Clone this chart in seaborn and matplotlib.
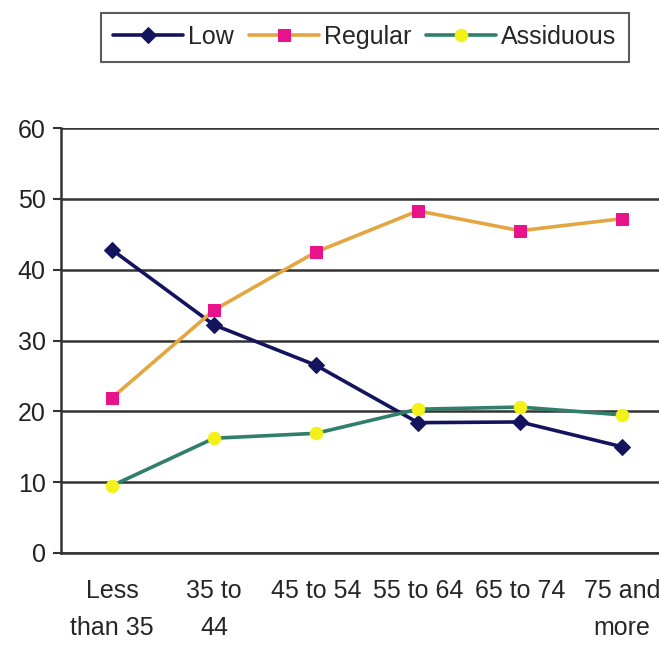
import numpy as np
import pandas as pd
import matplotlib
matplotlib.use("Agg")
import matplotlib.pyplot as plt
import seaborn as sns

# data
categories = ["Less\nthan 35", "35 to\n44", "45 to 54", "55 to 64", "65 to 74", "75 and\nmore"]
low = [42.8, 32.2, 26.5, 18.4, 18.5, 15.0]
regular = [21.9, 34.3, 42.5, 48.3, 45.5, 47.2]
assiduous = [9.5, 16.2, 16.9, 20.3, 20.6, 19.5]

sns.set_style("white")
plt.rcParams['font.family'] = ['Liberation Sans', 'DejaVu Sans']

pos = np.arange(len(categories))
df = pd.DataFrame({
    'pos': np.tile(pos, 3),
    'value': low + regular + assiduous,
    'series': ['Low'] * 6 + ['Regular'] * 6 + ['Assiduous'] * 6,
})

styles = {
    'Low': dict(color='#14145e', marker='D', mfc='#14145e', mec='#14145e', ms=8),
    'Regular': dict(color='#e3a640', marker='s', mfc='#e8138a', mec='#e8138a', ms=9),
    'Assiduous': dict(color='#2f7f6a', marker='o', mfc='#f2f21a', mec='#f2f21a', ms=9),
}

fig = plt.figure(figsize=(6.59, 6.45), dpi=100)
ax = fig.add_axes([61 / 659, 92 / 645, 612 / 659, 425 / 645])

for name, st in styles.items():
    sub = df[df['series'] == name]
    sns.lineplot(data=sub, x='pos', y='value', ax=ax, color=st['color'], lw=2.6,
                 marker=st['marker'], markerfacecolor=st['mfc'],
                 markeredgecolor=st['mec'], markersize=st['ms'], label=name)

ax.set_xlim(-0.5, 5.5)
ax.set_ylim(0, 60)
ax.set_yticks(range(0, 61, 10))
ax.set_xticks(pos)
ax.set_xticklabels(categories, fontsize=18, linespacing=1.65)
ax.set_xticks(np.arange(-0.5, 6, 1), minor=True)
ax.tick_params(axis='x', which='major', length=0, pad=19)
ax.tick_params(axis='x', which='minor', length=8, width=1.5, color='#333333', direction='out')
ax.tick_params(axis='y', length=6, width=1.5, color='#333333', direction='out',
               labelsize=18, pad=5, left=True, labelcolor='#222222')
ax.set_xlabel('')
ax.set_ylabel('')

ax.grid(axis='y', color='#333333', lw=1.8)
ax.set_axisbelow(True)
for s in ['top', 'right']:
    ax.spines[s].set_visible(False)
for s in ['left', 'bottom']:
    ax.spines[s].set_color('#333333')
    ax.spines[s].set_linewidth(1.8)

handles, labels = ax.get_legend_handles_labels()
ax.get_legend().remove()
leg = fig.legend(handles, labels, loc='center', bbox_to_anchor=(365 / 659, 1 - 37 / 645),
                 ncol=3, fontsize=18, frameon=True, fancybox=False, handlelength=2.8,
                 columnspacing=0.6, handletextpad=0.2, borderpad=0.5)
leg.get_frame().set_edgecolor('#333333')
leg.get_frame().set_linewidth(1.5)

fig.savefig('out.png', dpi=100)
